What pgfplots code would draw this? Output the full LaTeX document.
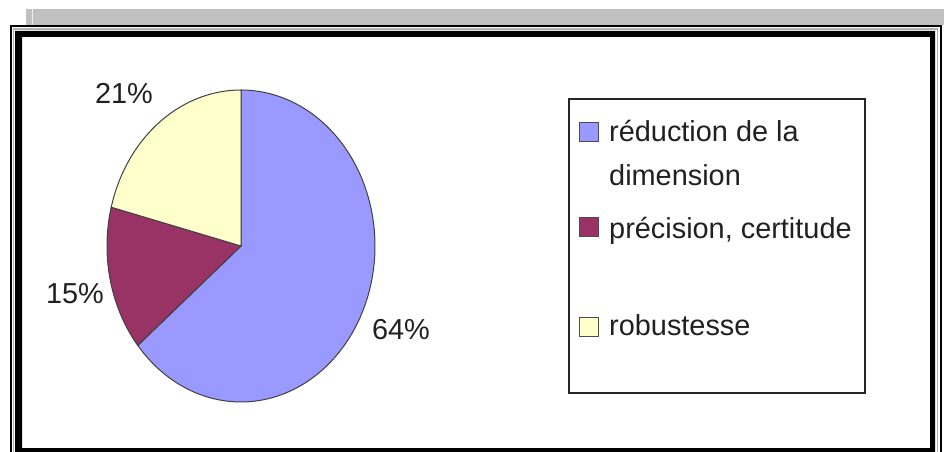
\documentclass[border=0pt]{standalone}
\usepackage{pgfplots}
\usepackage{pgfplotstable}
\pgfplotsset{compat=1.18}
\usepackage{fontspec}
\setmainfont{Liberation Sans}
\definecolor{pieblue}{HTML}{9999FF}
\definecolor{piered}{HTML}{993366}
\definecolor{pieyellow}{HTML}{FFFFCC}
\definecolor{bandgray}{HTML}{C0C0C0}
\definecolor{txt}{HTML}{202020}

\pgfplotstableread{
label value
reduction 64
precision 15
robustesse 21
}\piedata
\pgfplotstablegetelem{0}{value}\of\piedata \let\vA\pgfplotsretval
\pgfplotstablegetelem{1}{value}\of\piedata \let\vB\pgfplotsretval
\pgfplotstablegetelem{2}{value}\of\piedata \let\vC\pgfplotsretval
\pgfmathsetmacro\aA{90}
\pgfmathsetmacro\aB{90-3.6*\vA}
\pgfmathsetmacro\aC{\aB-3.6*\vB}
\pgfmathsetmacro\aD{\aC-3.6*\vC}

\begin{document}
\begin{tikzpicture}
\path[use as bounding box] (0bp,0bp) rectangle (944bp,452bp);
\begin{scope}[x=1bp,y=1bp]
% gray band at top
\fill[bandgray] (26,427) rectangle (944,443);
\draw[white!85!gray, line width=1] (32,427) -- (32,443);
% outer thin frame
\draw[black, line width=2] (11,-5) -- (11,426) -- (941,426) -- (941,-5);
\draw[gray!60, line width=1.5] (13.5,-5) -- (13.5,423) -- (937.5,423) -- (937.5,-5);
% thick frame
\fill[black, even odd rule] (15,0) rectangle (935,421) (22,4) rectangle (930,415);
\end{scope}

\begin{axis}[
  scale only axis, width=268bp, height=312bp,
  xmin=-1, xmax=1, ymin=-1, ymax=1,
  hide axis, clip=false,
  at={(241bp,206bp)}, anchor=center,
]
\addplot[fill=pieblue, draw=black!75, line width=1bp, domain=\aB:\aA, samples=120, variable=\t]
  ({cos(\t)},{sin(\t)}) -- (axis cs:0,0) -- cycle;
\addplot[fill=piered, draw=black!75, line width=1bp, domain=\aC:\aB, samples=40, variable=\t]
  ({cos(\t)},{sin(\t)}) -- (axis cs:0,0) -- cycle;
\addplot[fill=pieyellow, draw=black!75, line width=1bp, domain=\aD:\aC, samples=50, variable=\t]
  ({cos(\t)},{sin(\t)}) -- (axis cs:0,0) -- cycle;
\end{axis}

\begin{scope}[x=1bp,y=1bp, every node/.style={inner sep=0pt, text=txt, font=\fontsize{29}{34}\selectfont}]
% slice labels
\node at (124,359) {21\%};
\node at (75,158) {15\%};
\node at (401,122) {64\%};
% legend
\draw[black!85, line width=1.5] (569,59) rectangle (865,353);
\draw[black!70, line width=0.6, fill=pieblue] (579.5,310.5) rectangle (598.5,329.5);
\draw[black!70, line width=0.6, fill=piered] (579.5,215.5) rectangle (598.5,234.5);
\draw[black!70, line width=0.6, fill=pieyellow] (579.5,115.5) rectangle (598.5,134.5);
\node[anchor=base west] at (609,310.5) {réduction de la};
\node[anchor=base west] at (609,267) {dimension};
\node[anchor=base west] at (609,214) {précision, certitude};
\node[anchor=base west] at (609,117) {robustesse};
\end{scope}
\end{tikzpicture}
\end{document}
